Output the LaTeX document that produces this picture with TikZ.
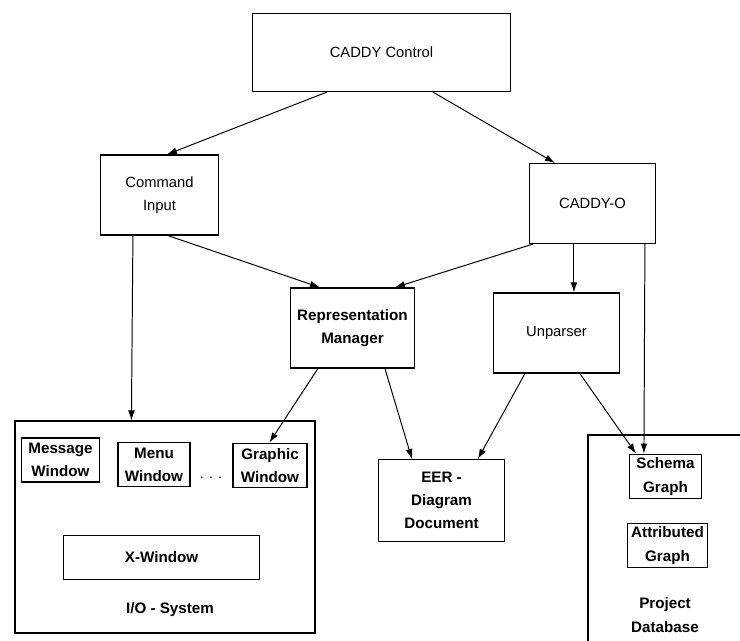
\documentclass[tikz,border=0pt]{standalone}
\usepackage{fontspec}
\setmainfont{Liberation Sans}
\usetikzlibrary{arrows.meta,calc}

\begin{document}
\begin{tikzpicture}[x=0.025cm, y=-0.025cm,
  box/.style={draw, line width=0.8pt, inner sep=0pt, align=center,
    font=\fontsize{10.5}{16}\selectfont},
  bbox/.style={box, font=\bfseries\fontsize{10.8}{16.5}\selectfont},
  lbl/.style={align=center, font=\bfseries\fontsize{10.8}{16.5}\selectfont},
  link/.style={line width=0.7pt, -{Latex[length=2.5mm,width=1.7mm]}}]

  % Page frame, pixel units with y running down
  \useasboundingbox (0,0) rectangle (740,640);
  \clip (0,0) rectangle (740,640);

  % Upper layer
  \node[box, minimum width=6.45cm, minimum height=1.95cm] (ctrl) at (381.5,52.5) {CADDY Control};
  \node[box, minimum width=2.95cm, minimum height=2cm] (cmd) at (159.5,195) {Command\\Input};
  \node[box, minimum width=3.15cm, minimum height=2cm] (caddyo) at (592.5,203.5) {CADDY-O};
  \node[bbox, minimum width=3.1cm, minimum height=2cm] (repr) at (352.5,328) {Representation\\Manager};
  \node[box, minimum width=3.15cm, minimum height=2cm] (unparser) at (556.5,333) {Unparser};

  % I/O system with its windows
  \node[box, minimum width=7.5cm, minimum height=5.3cm] (io) at (165,527) {};
  \node[bbox, minimum width=1.95cm, minimum height=1.1cm] (msg) at (60.5,460) {Message\\Window};
  \node[bbox, minimum width=1.8cm, minimum height=1.12cm] (menu) at (154,464.5) {Menu\\Window};
  \node (dots) at (211,478) {. . .};
  \node[bbox, minimum width=1.85cm, minimum height=1.12cm] (graphic) at (270,465.5) {Graphic\\Window};
  \node[bbox, minimum width=4.9cm, minimum height=1.12cm] (xwin) at (161.5,557.5) {X-Window};
  \node[lbl] (iolbl) at (170,610) {I/O - System};

  % Diagram document
  \node[bbox, minimum width=3.15cm, minimum height=2.05cm] (eer) at (441.5,500.5) {EER -\\Diagram\\Document};

  % Project database, cut by the page edge
  \draw[line width=0.8pt] (760,435) -- (588,435) -- (588,660);
  \node[bbox, minimum width=1.8cm, minimum height=1.12cm] (schema) at (665.5,476.5) {Schema\\Graph};
  \node[bbox, minimum width=2cm, minimum height=1.12cm] (attr) at (667.5,545.5) {Attributed\\Graph};
  \node[lbl] (dblbl) at (665,615) {Project\\Database};

  % Connectors
  \draw[link] ($(ctrl.south west)+(75,0)$) -- ($(cmd.north west)+(67,0)$);
  \draw[link] ($(ctrl.south west)+(181,0)$) -- ($(caddyo.north west)+(26,0)$);
  \draw[link] ($(cmd.south west)+(68,0)$) -- ($(repr.north west)+(30,0)$);
  \draw[link] ($(caddyo.south west)+(4,0)$) -- ($(repr.north west)+(105,0)$);
  \draw[link] ($(caddyo.south west)+(45,0)$) -- ($(unparser.north west)+(81,0)$);
  \draw[link] ($(caddyo.south west)+(116,0)$) -- ($(schema.north west)+(15,0)$);
  \draw[link] ($(cmd.south west)+(33,0)$) -- ($(io.north west)+(117,0)$);
  \draw[link] ($(repr.south west)+(28,0)$) -- ($(graphic.north west)+(37,0)$);
  \draw[link] ($(repr.south west)+(95,0)$) -- ($(eer.north west)+(34,0)$);
  \draw[link] ($(unparser.south west)+(32,0)$) -- ($(eer.north west)+(100,0)$);
  \draw[link] ($(unparser.south west)+(87,0)$) -- ($(schema.north west)+(7,0)$);

\end{tikzpicture}
\end{document}
